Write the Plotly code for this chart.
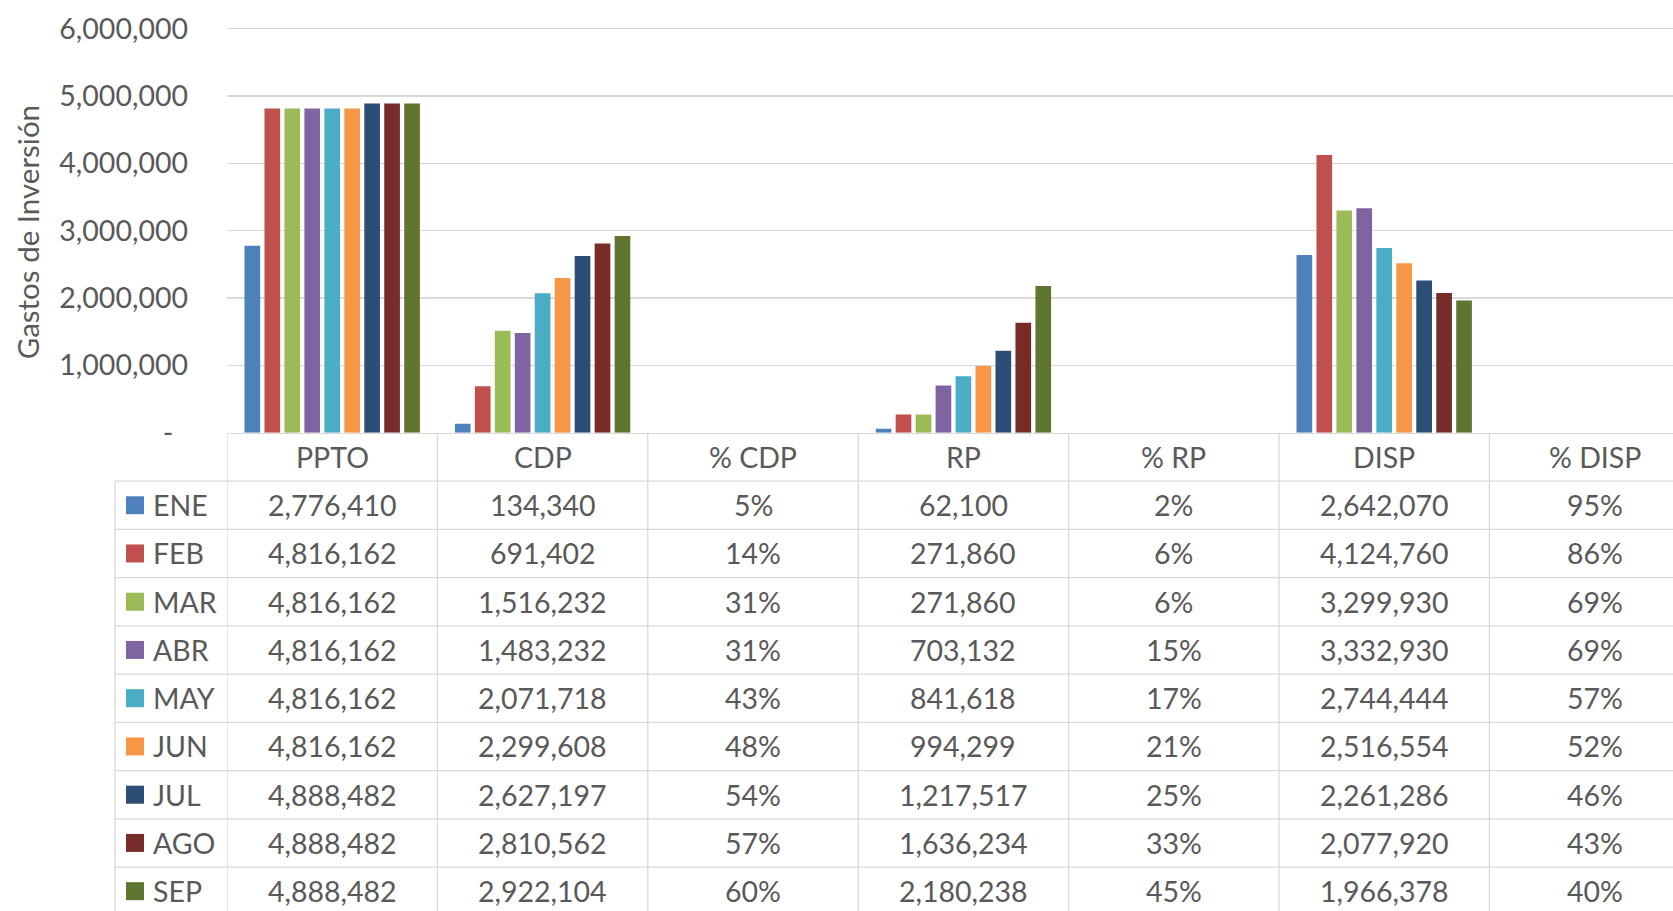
import plotly.graph_objects as go

months = ["ENE", "FEB", "MAR", "ABR", "MAY", "JUN", "JUL", "AGO", "SEP"]
columns = ["PPTO", "CDP", "% CDP", "RP", "% RP", "DISP", "% DISP"]

ppto = [2776410, 4816162, 4816162, 4816162, 4816162, 4816162, 4888482, 4888482, 4888482]
cdp = [134340, 691402, 1516232, 1483232, 2071718, 2299608, 2627197, 2810562, 2922104]
pct_cdp = [5, 14, 31, 31, 43, 48, 54, 57, 60]
rp = [62100, 271860, 271860, 703132, 841618, 994299, 1217517, 1636234, 2180238]
pct_rp = [2, 6, 6, 15, 17, 21, 25, 33, 45]
disp = [2642070, 4124760, 3299930, 3332930, 2744444, 2516554, 2261286, 2077920, 1966378]
pct_disp = [95, 86, 69, 69, 57, 52, 46, 43, 40]

colors = ["#4F81BD", "#C0504D", "#9BBB59", "#8064A2", "#4BACC6",
          "#F79646", "#2C4D75", "#772C2A", "#5F7530"]

y_tickvals = [0, 1000000, 2000000, 3000000, 4000000, 5000000, 6000000]
y_ticktext = ["-\u00a0\u00a0", "1,000,000", "2,000,000", "3,000,000", "4,000,000", "5,000,000", "6,000,000"]

W, H = 1673, 911
ML = 227
ZERO_PX, SIX_PX = 433, 29
px_per_unit = (ZERO_PX - SIX_PX) / 6000000
YMAX = 6100000
MT = ZERO_PX - YMAX * px_per_unit
PW, PH = W - ML, H - MT
TXT = "#595959"
LINE = "#D9D9D9"
FONT = "Lato"
FS = 28.5
COLW = 210.4

fig = go.Figure()

for i, m in enumerate(months):
    vals = [ppto[i], cdp[i], pct_cdp[i] / 100, rp[i], pct_rp[i] / 100, disp[i], pct_disp[i] / 100]
    fig.add_trace(go.Bar(x=columns, y=vals, name=m, marker_color=colors[i],
                         marker_line_width=0, showlegend=False))

fig.add_trace(go.Scatter(x=[], y=[], yaxis="y2", showlegend=False))

table_bottom_frac = (H - ZERO_PX) / PH
row_px = 48.23
y2_max = (H - ZERO_PX) / row_px

shapes = []
annotations = []

def px_to_paper_x(px):
    return (px - ML) / PW

def px_to_paper_y(py):
    return (H - py) / PH

# vertical borders at category boundaries
for k in range(len(columns) + 1):
    shapes.append(dict(type="line", xref="x", yref="y2", x0=k - 0.5, x1=k - 0.5,
                       y0=0, y1=y2_max, line=dict(color=LINE, width=1.3)))
# left border of label column
shapes.append(dict(type="line", xref="paper", yref="y2", x0=px_to_paper_x(115), x1=px_to_paper_x(115),
                   y0=1, y1=y2_max, line=dict(color=LINE, width=1.3)))
# horizontal borders
for r in range(1, len(months) + 1):
    shapes.append(dict(type="line", xref="paper", yref="y2", x0=px_to_paper_x(115), x1=1,
                       y0=r, y1=r, line=dict(color=LINE, width=1.3)))

# header texts
for c in columns:
    annotations.append(dict(x=c, y=0.5, xref="x", yref="y2", text=c, showarrow=False,
                            font=dict(family=FONT, size=FS, color=TXT)))

series = [ppto, cdp, pct_cdp, rp, pct_rp, disp, pct_disp]
is_pct = [False, False, True, False, True, False, True]
for j, c in enumerate(columns):
    for i, m in enumerate(months):
        v = series[j][i]
        t = f"{v}%" if is_pct[j] else f"{v:,}"
        annotations.append(dict(x=c, y=i + 1.5, xref="x", yref="y2", text=t, showarrow=False,
                                font=dict(family=FONT, size=FS, color=TXT)))

# row labels with legend keys
half = 9 / row_px
for i, m in enumerate(months):
    shapes.append(dict(type="rect", xref="paper", yref="y2",
                       x0=px_to_paper_x(126), x1=px_to_paper_x(144),
                       y0=i + 1.5 - half, y1=i + 1.5 + half,
                       fillcolor=colors[i], line=dict(width=0)))
    annotations.append(dict(x=px_to_paper_x(151), y=i + 1.5, xref="paper", yref="y2",
                            text=m, showarrow=False, xanchor="left", yanchor="middle",
                            font=dict(family=FONT, size=FS, color=TXT)))

# y axis title
annotations.append(dict(x=px_to_paper_x(27), y=px_to_paper_y(232.5), xref="paper", yref="paper",
                        text="Gastos de Inversión", textangle=-90, showarrow=False,
                        xanchor="center", yanchor="middle",
                        font=dict(family=FONT, size=29.5, color=TXT)))

fig.update_layout(
    width=W, height=H, autosize=False,
    margin=dict(l=ML, r=0, t=MT, b=0, pad=0, autoexpand=False),
    paper_bgcolor="white", plot_bgcolor="white",
    barmode="group", bargap=0.146, bargroupgap=0.215,
    showlegend=False,
    font=dict(family=FONT, size=FS, color=TXT),
    xaxis=dict(type="category", categoryorder="array", categoryarray=columns,
               range=[-0.5, -0.5 + PW / COLW], showticklabels=False, ticks="",
               showgrid=False, showline=True, linecolor=LINE, linewidth=1.3,
               zeroline=False, fixedrange=True, automargin=False),
    yaxis=dict(domain=[table_bottom_frac, 1], range=[0, YMAX],
               tickvals=y_tickvals, ticktext=y_ticktext,
               showgrid=True, gridcolor=LINE, gridwidth=1.3, zeroline=False,
               showline=False, ticks="", ticklabelstandoff=38, automargin=False,
               tickfont=dict(family=FONT, size=FS, color=TXT), fixedrange=True),
    yaxis2=dict(domain=[0, table_bottom_frac], range=[y2_max, 0], anchor="x",
                visible=False, showgrid=False, zeroline=False, fixedrange=True,
                automargin=False),
    shapes=shapes,
    annotations=annotations,
)

fig.write_html(
    "out.html",
    config={"displayModeBar": False, "responsive": False, "staticPlot": True},
    post_script="document.body.style.margin='0px';document.body.style.overflow='hidden';",
)
